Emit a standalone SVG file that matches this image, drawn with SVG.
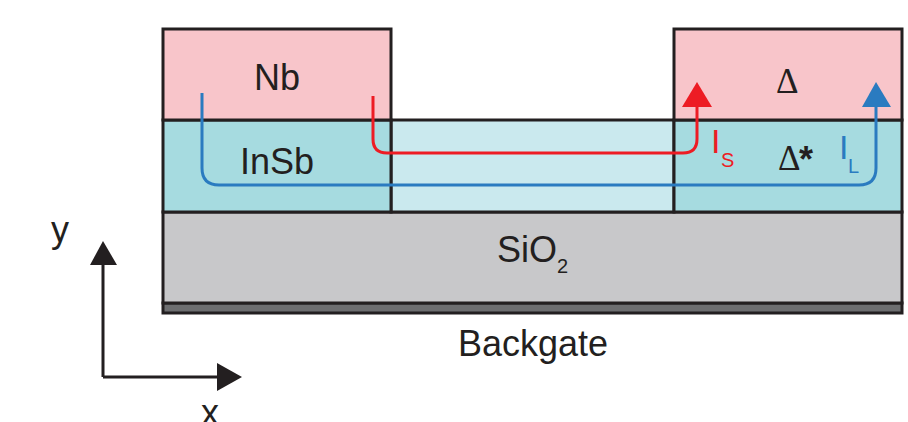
<svg xmlns="http://www.w3.org/2000/svg" width="908" height="422" viewBox="0 0 908 422">
  <defs>
    <style>
      .edge { stroke: #231f20; stroke-width: 3; }
      .lbl { font-family: "Liberation Sans", Arial, sans-serif; font-size: 36px; fill: #231f20; }
      .sub { font-family: "Liberation Sans", Arial, sans-serif; font-size: 20px; }
      .big-i { font-family: "Liberation Sans", Arial, sans-serif; font-size: 34px; }
      .sym { font-family: "Liberation Serif", "Times New Roman", serif; font-size: 35px; fill: #231f20; }
      .cur { fill: none; stroke-width: 3; stroke-linecap: butt; }
    </style>
  </defs>
  <rect x="0" y="0" width="908" height="422" fill="#ffffff"/>

  <!-- substrate: backgate and oxide -->
  <g id="backgate">
    <rect x="163" y="303" width="739" height="10" fill="#6d6e70" class="edge"/>
  </g>
  <g id="sio2">
    <rect x="163" y="212" width="739" height="91" fill="#c8c8ca" class="edge"/>
    <text class="lbl" x="497" y="262">SiO</text>
    <text class="sub" x="557" y="273" fill="#231f20">2</text>
  </g>

  <!-- InSb channel -->
  <g id="channel">
    <rect x="391" y="120" width="283" height="92" fill="#cae9ee" class="edge"/>
  </g>
  <g id="insb-left">
    <rect x="163" y="120" width="228" height="92" fill="#a6dbe0" class="edge"/>
    <text class="lbl" x="277" y="174" text-anchor="middle">InSb</text>
  </g>
  <g id="insb-right">
    <rect x="674" y="120" width="228" height="92" fill="#a6dbe0" class="edge"/>
    <text class="sym" x="778" y="170">Δ</text>
    <text x="799" y="172" style="font-family:'Liberation Sans',Arial,sans-serif;font-size:36px;font-weight:bold;fill:#231f20">*</text>
  </g>

  <!-- Nb contacts -->
  <g id="nb-left">
    <rect x="163" y="29" width="228" height="91" fill="#f8c5ca" class="edge"/>
    <text class="lbl" x="277" y="90" text-anchor="middle">Nb</text>
  </g>
  <g id="nb-right">
    <rect x="674" y="29" width="228" height="91" fill="#f8c5ca" class="edge"/>
    <text class="sym" x="776" y="93">Δ</text>
  </g>

  <!-- current paths -->
  <g id="connectors">
    <path class="cur" stroke="#ed1c24" d="M373 96 V139 Q373 153 387 153 H683 Q697 153 697 139 V104"/>
    <polygon fill="#ed1c24" points="697,82 682,107 712,107"/>
    <path class="cur" stroke="#2a7bc0" d="M202 93 V168 Q202 185 219 185 H859 Q876 185 876 168 V104"/>
    <polygon fill="#2a7bc0" points="876,82 862,107 891,107"/>
  </g>

  <g id="label-is">
    <text class="big-i" x="711" y="153" fill="#ed1c24">I</text>
    <text class="sub" x="721" y="167" fill="#ed1c24">S</text>
  </g>
  <g id="label-il">
    <text class="big-i" x="839" y="159" fill="#2a7bc0">I</text>
    <text class="sub" x="848" y="173" fill="#2a7bc0">L</text>
  </g>

  <g id="label-backgate">
    <text class="lbl" x="533" y="356" text-anchor="middle">Backgate</text>
  </g>

  <!-- coordinate axes -->
  <g id="axes">
    <path d="M103 377 V262 M103 377 H220" fill="none" class="edge"/>
    <polygon fill="#231f20" points="103,241 90,265 117,265"/>
    <polygon fill="#231f20" points="242,377 217,363 217,391"/>
    <text class="lbl" x="60" y="242" text-anchor="middle">y</text>
    <text class="lbl" x="210" y="425" text-anchor="middle">x</text>
  </g>
</svg>
